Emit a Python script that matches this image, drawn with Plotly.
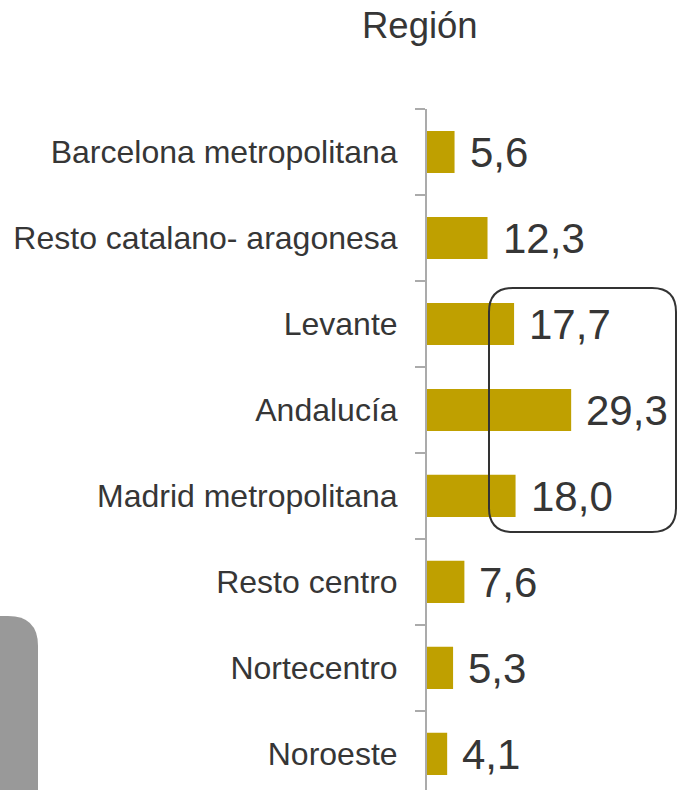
import plotly.graph_objects as go

W, H = 677, 790

regiones = [
    "Barcelona metropolitana",
    "Resto catalano- aragonesa",
    "Levante",
    "Andalucía",
    "Madrid metropolitana",
    "Resto centro",
    "Nortecentro",
    "Noroeste",
]
porcentajes = [5.6, 12.3, 17.7, 29.3, 18.0, 7.6, 5.3, 4.1]
titulo = "Región"

FONT = "Liberation Sans, Arial, sans-serif"
GOLD = "#BFA000"
TEXT = "#363636"


def px(x, y):
    """Pixel position -> paper coordinates (margins are zero)."""
    return x / W, 1 - y / H


def rounded_path(x0, y0, x1, y1, r):
    """Rounded rectangle path in paper coordinates from pixel corners."""
    pts = [
        ("M", px(x0 + r, y0)),
        ("L", px(x1 - r, y0)),
        ("Q", px(x1, y0), px(x1, y0 + r)),
        ("L", px(x1, y1 - r)),
        ("Q", px(x1, y1), px(x1 - r, y1)),
        ("L", px(x0 + r, y1)),
        ("Q", px(x0, y1), px(x0, y1 - r)),
        ("L", px(x0, y0 + r)),
        ("Q", px(x0, y0), px(x0 + r, y0)),
    ]
    out = []
    for p in pts:
        cmd = p[0]
        coords = " ".join(f"{a:.5f},{b:.5f}" for a, b in p[1:])
        out.append(f"{cmd} {coords}")
    return " ".join(out) + " Z"


fig = go.Figure(
    go.Bar(
        x=porcentajes,
        y=regiones,
        orientation="h",
        marker=dict(color=GOLD, line=dict(width=0)),
        hoverinfo="skip",
    )
)

# value labels to the right of each bar
for reg, val in zip(regiones, porcentajes):
    fig.add_annotation(
        x=val,
        y=reg,
        xref="x",
        yref="y",
        text=f"{val:.1f}".replace(".", ","),
        showarrow=False,
        xanchor="left",
        yanchor="middle",
        xshift=13,
        yshift=-1,
        font=dict(family=FONT, size=42, color=TEXT),
    )

fig.add_annotation(
    x=420 / W,
    y=1 - 26 / H,
    xref="paper",
    yref="paper",
    text=titulo,
    showarrow=False,
    xanchor="center",
    yanchor="middle",
    font=dict(family=FONT, size=36.5, color=TEXT),
)

# highlight box around the three largest regions
fig.add_shape(
    type="path",
    path=rounded_path(489, 288, 676, 532, 24),
    xref="paper",
    yref="paper",
    line=dict(color="#333333", width=2),
    fillcolor="rgba(0,0,0,0)",
    layer="above",
)

# grey tab in the lower-left corner
fig.add_shape(
    type="path",
    path=rounded_path(-40, 616, 38, 830, 30),
    xref="paper",
    yref="paper",
    line=dict(width=0),
    fillcolor="#999999",
    layer="below",
)

n = len(regiones)
fig.update_layout(
    width=W,
    height=H,
    margin=dict(l=0, r=0, t=0, b=0),
    paper_bgcolor="white",
    plot_bgcolor="white",
    showlegend=False,
    bargap=0.51,
    xaxis=dict(
        domain=[427 / W, 1],
        range=[0, 250 / 4.92],
        visible=False,
    ),
    yaxis=dict(
        domain=[0, 1 - 109 / H],
        type="category",
        range=[n - 0.5 - 0.08, -0.5],
        showline=True,
        linecolor="#ABABAB",
        linewidth=2,
        ticks="outside",
        tickson="boundaries",
        ticklen=10,
        tickwidth=1.5,
        tickcolor="#ABABAB",
        ticklabelstandoff=21,
        showgrid=False,
        zeroline=False,
        tickfont=dict(family=FONT, size=32, color=TEXT),
    ),
)

fig.write_html("out.html")
